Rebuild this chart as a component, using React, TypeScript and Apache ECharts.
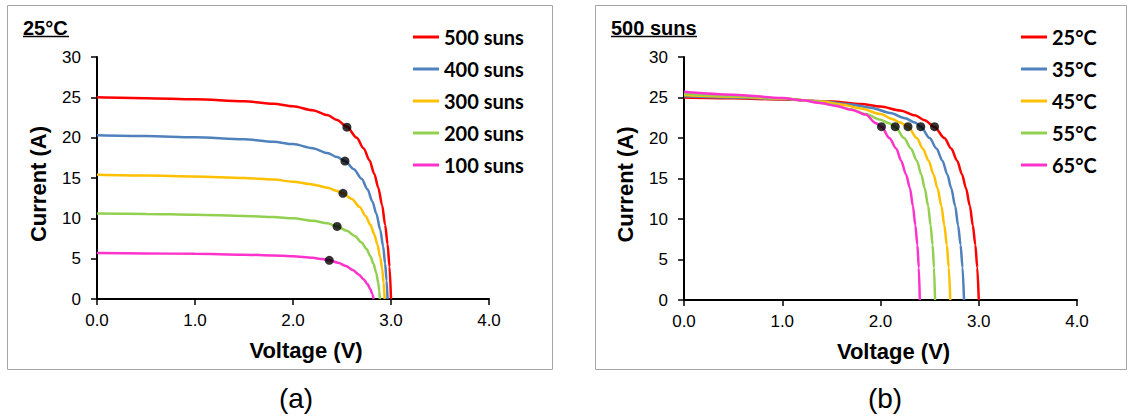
import React, { useEffect, useRef } from "react";
import * as echarts from "echarts";

type Pt = [number, number];

// ---- Panel (a): 25°C, varying concentration ----
const sunLabels = ["500 suns", "400 suns", "300 suns", "200 suns", "100 suns"];

const suns500: Pt[] = [
  [0, 25.0], [0.5, 24.9], [1.0, 24.75], [1.5, 24.5], [1.8, 24.2], [2.0, 23.9],
  [2.2, 23.4], [2.35, 22.8], [2.45, 22.2], [2.55, 21.35], [2.65, 20.0], [2.72, 18.7],
  [2.78, 17.2], [2.83, 15.5], [2.87, 13.8], [2.91, 11.6], [2.94, 9.2], [2.965, 6.8],
  [2.985, 4.0], [3.0, 0],
];
const suns400: Pt[] = [
  [0, 20.3], [0.5, 20.2], [1.0, 20.05], [1.5, 19.8], [1.8, 19.5], [2.0, 19.2],
  [2.2, 18.7], [2.35, 18.1], [2.45, 17.6], [2.53, 17.1], [2.62, 16.1], [2.7, 14.9],
  [2.76, 13.6], [2.81, 12.1], [2.85, 10.6], [2.89, 8.6], [2.92, 6.5], [2.94, 4.4],
  [2.955, 2.3], [2.965, 0],
];
const suns300: Pt[] = [
  [0, 15.4], [0.5, 15.3], [1.0, 15.2], [1.5, 15.0], [1.8, 14.8], [2.0, 14.55],
  [2.2, 14.2], [2.35, 13.8], [2.45, 13.4], [2.51, 13.1], [2.6, 12.4], [2.68, 11.4],
  [2.74, 10.3], [2.79, 9.2], [2.83, 8.0], [2.86, 6.8], [2.89, 5.2], [2.91, 3.7],
  [2.925, 2.0], [2.935, 0],
];
const suns200: Pt[] = [
  [0, 10.6], [0.5, 10.55], [1.0, 10.45], [1.5, 10.3], [1.8, 10.15], [2.0, 10.0],
  [2.2, 9.7], [2.35, 9.4], [2.45, 9.0], [2.55, 8.45], [2.63, 7.8], [2.7, 7.0],
  [2.75, 6.2], [2.79, 5.3], [2.82, 4.4], [2.85, 3.2], [2.87, 2.0], [2.88, 1.0],
  [2.886, 0],
];
const suns100: Pt[] = [
  [0, 5.7], [0.5, 5.65], [1.0, 5.6], [1.5, 5.5], [1.8, 5.4], [2.0, 5.3],
  [2.2, 5.1], [2.3, 4.95], [2.37, 4.8], [2.46, 4.5], [2.54, 4.1], [2.61, 3.6],
  [2.67, 3.05], [2.72, 2.45], [2.76, 1.85], [2.79, 1.2], [2.81, 0.6], [2.822, 0],
];
const mppA: Pt[] = [[2.55, 21.3], [2.53, 17.1], [2.51, 13.1], [2.45, 9.0], [2.37, 4.8]];

// ---- Panel (b): 500 suns, varying temperature ----
const tempLabels = ["25°C", "35°C", "45°C", "55°C", "65°C"];

const temp25: Pt[] = suns500;
const temp35: Pt[] = [
  [0, 25.15], [0.5, 25.0], [1.0, 24.8], [1.4, 24.55], [1.7, 24.15], [1.9, 23.75],
  [2.1, 23.1], [2.25, 22.45], [2.35, 21.9], [2.41, 21.4], [2.5, 20.0], [2.57, 18.7],
  [2.63, 17.2], [2.68, 15.5], [2.72, 13.8], [2.76, 11.6], [2.79, 9.2], [2.815, 6.8],
  [2.835, 4.0], [2.85, 0],
];
const temp45: Pt[] = [
  [0, 25.3], [0.5, 25.1], [1.0, 24.85], [1.4, 24.5], [1.6, 24.15], [1.8, 23.65],
  [2.0, 22.95], [2.12, 22.35], [2.2, 21.9], [2.28, 21.4], [2.37, 20.0], [2.43, 18.7],
  [2.49, 17.2], [2.54, 15.5], [2.58, 13.8], [2.62, 11.6], [2.65, 9.2], [2.675, 6.8],
  [2.695, 4.0], [2.71, 0],
];
const temp55: Pt[] = [
  [0, 25.45], [0.5, 25.2], [1.0, 24.9], [1.3, 24.55], [1.5, 24.15], [1.7, 23.55],
  [1.85, 22.95], [2.0, 22.25], [2.08, 21.85], [2.15, 21.4], [2.24, 20.0], [2.31, 18.7],
  [2.37, 17.2], [2.415, 15.5], [2.45, 13.8], [2.485, 11.6], [2.51, 9.2], [2.53, 6.8],
  [2.545, 4.0], [2.555, 0],
];
const temp65: Pt[] = [
  [0, 25.7], [0.5, 25.35], [1.0, 24.95], [1.2, 24.65], [1.4, 24.3], [1.55, 23.95],
  [1.7, 23.5], [1.85, 22.9], [1.95, 21.85], [2.01, 21.4], [2.09, 20.0], [2.16, 18.7],
  [2.21, 17.2], [2.26, 15.5], [2.3, 13.8], [2.33, 11.6], [2.355, 9.2], [2.375, 6.8],
  [2.39, 4.0], [2.4, 0],
];
const mppB: Pt[] = [[2.55, 21.4], [2.41, 21.4], [2.28, 21.4], [2.15, 21.4], [2.01, 21.4]];

const seriesA = [suns500, suns400, suns300, suns200, suns100];
const seriesB = [temp25, temp35, temp45, temp55, temp65];

// axes
const vMin = 0, vMax = 4, vStep = 1;
const iMin = 0, iMax = 30, iStep = 5;

const colors = ["#FF0000", "#4F81BD", "#FFC000", "#92D050", "#FF33CC"];
const FONT = "'Liberation Sans', Arial, sans-serif";
const LEG_FONT = "Lato, 'Liberation Sans', sans-serif";

function xAxis(gridIndex: number) {
  return {
    type: "value", gridIndex, min: vMin, max: vMax, interval: vStep,
    name: "Voltage (V)", nameLocation: "middle", nameGap: 40,
    nameTextStyle: { fontFamily: FONT, fontWeight: "bold", fontSize: 22, color: "#000", padding: [0, 0, 0, 26] },
    axisLine: { show: true, onZero: false, lineStyle: { color: "#000", width: 2 } },
    axisTick: { show: true, length: 6, lineStyle: { color: "#000", width: 1.5 } },
    axisLabel: { formatter: (v: number) => v.toFixed(1), color: "#000", fontSize: 17, fontFamily: FONT, margin: 13 },
    splitLine: { show: false },
  };
}
function yAxis(gridIndex: number) {
  return {
    type: "value", gridIndex, min: iMin, max: iMax, interval: iStep,
    name: "Current (A)", nameLocation: "middle", nameGap: 48,
    nameTextStyle: { fontFamily: FONT, fontWeight: "bold", fontSize: 22, color: "#000", padding: [0, 12, 0, 0] },
    axisLine: { show: true, onZero: false, lineStyle: { color: "#000", width: 2 } },
    axisTick: { show: true, length: 6, lineStyle: { color: "#000", width: 1.5 } },
    axisLabel: { color: "#000", fontSize: 17, fontFamily: FONT, margin: 16 },
    splitLine: { show: false },
  };
}

function lines(names: string[], data: Pt[][], idx: number) {
  return names.map((name, i) => ({
    name, type: "line", xAxisIndex: idx, yAxisIndex: idx, data: data[i],
    showSymbol: false, smooth: 0.3, smoothMonotone: "x",
    lineStyle: { color: colors[i], width: 2.5 }, itemStyle: { color: colors[i] },
    z: 2 + i,
  }));
}
function dots(data: Pt[], idx: number) {
  return {
    name: "MPP" + idx, type: "scatter", xAxisIndex: idx, yAxisIndex: idx, data,
    symbol: "circle", symbolSize: 9, itemStyle: { color: "#000" }, z: 20,
  };
}
function legend(names: string[], left: number) {
  return {
    data: names, left, top: 27, orient: "vertical", padding: 0,
    icon: "rect", itemWidth: 26, itemHeight: 3, itemGap: 12,
    textStyle: { fontFamily: LEG_FONT, fontWeight: "bold", fontSize: 20, color: "#000" },
    selectedMode: false,
  };
}

const option = {
  animation: false,
  backgroundColor: "#fff",
  grid: [
    { left: 97, right: 639, top: 57, bottom: 120 },
    { left: 684, right: 51, top: 57, bottom: 119 },
  ],
  xAxis: [xAxis(0), xAxis(1)],
  yAxis: [yAxis(0), yAxis(1)],
  legend: [legend(sunLabels, 413), legend(tempLabels, 1021)],
  series: [
    ...lines(sunLabels, seriesA, 0), dots(mppA, 0),
    ...lines(tempLabels, seriesB, 1), dots(mppB, 1),
  ],
  graphic: [
    { type: "rect", shape: { x: 7.5, y: 5.5, width: 545, height: 364 }, style: { fill: "none", stroke: "#A6A6A6", lineWidth: 1 }, silent: true },
    { type: "rect", shape: { x: 595.5, y: 5.5, width: 531, height: 364 }, style: { fill: "none", stroke: "#A6A6A6", lineWidth: 1 }, silent: true },
    { type: "text", x: 23, y: 28, style: { text: "25°C", font: `bold 20px ${FONT}`, fill: "#000", textVerticalAlign: "middle" } },
    { type: "line", shape: { x1: 23, y1: 36.5, x2: 69, y2: 36.5 }, style: { stroke: "#000", lineWidth: 1.5 } },
    { type: "text", x: 611, y: 28, style: { text: "500 suns", font: `bold 20px ${FONT}`, fill: "#000", textVerticalAlign: "middle" } },
    { type: "line", shape: { x1: 611, y1: 36.5, x2: 697, y2: 36.5 }, style: { stroke: "#000", lineWidth: 1.5 } },
    { type: "text", x: 296, y: 398, style: { text: "(a)", font: `28px ${FONT}`, fill: "#000", textAlign: "center", textVerticalAlign: "middle" } },
    { type: "text", x: 885, y: 398, style: { text: "(b)", font: `28px ${FONT}`, fill: "#000", textAlign: "center", textVerticalAlign: "middle" } },
  ],
};

export default function App() {
  const ref = useRef<HTMLDivElement>(null);
  useEffect(() => {
    document.body.style.margin = "0";
    const chart = echarts.init(ref.current!, null, { renderer: "svg" });
    chart.setOption(option as any);
    return () => chart.dispose();
  }, []);
  return <div ref={ref} style={{ width: 1128, height: 419 }} />;
}
